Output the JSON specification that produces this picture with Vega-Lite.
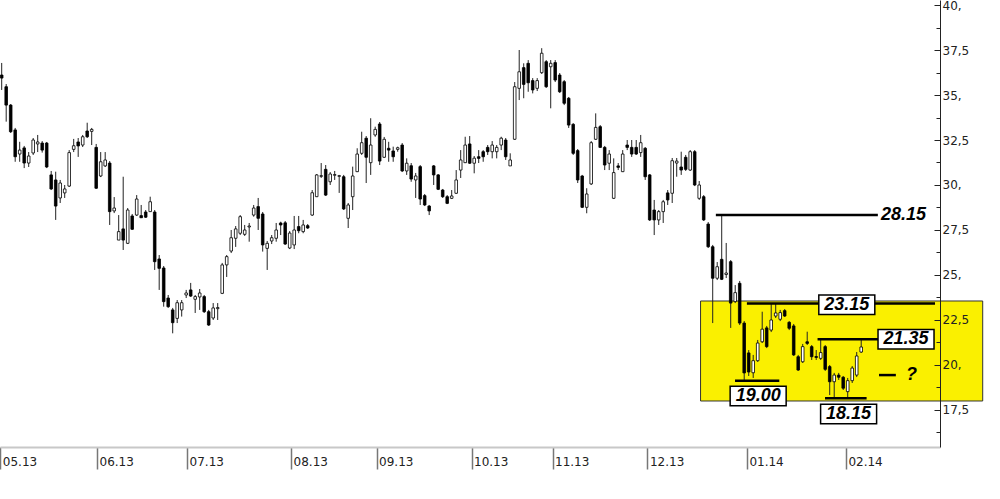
{
  "$schema": "https://vega.github.io/schema/vega-lite/v6.json",
  "width": 940,
  "height": 447,
  "autosize": "none",
  "padding": {"left": 0, "top": 0, "right": 60, "bottom": 52},
  "background": "white",
  "config": {"view": {"stroke": null}},
  "resolve": {"axis": {"y": "independent"}},
  "datasets": {
    "candles": [
      {"i":1,"o":36.11,"h":36.78,"l":35.28,"c":35.94},
      {"i":2,"o":35.46,"h":35.61,"l":33.52,"c":34.44},
      {"i":3,"o":34.44,"h":34.5,"l":32.89,"c":32.96},
      {"i":4,"o":33.06,"h":33.17,"l":31.29,"c":31.57},
      {"i":5,"o":31.72,"h":32.4,"l":31.29,"c":31.94},
      {"i":6,"o":32.06,"h":32.17,"l":30.94,"c":31.22},
      {"i":7,"o":31.22,"h":31.83,"l":31.0,"c":31.61},
      {"i":8,"o":31.78,"h":32.61,"l":31.67,"c":32.5},
      {"i":9,"o":32.28,"h":32.78,"l":31.83,"c":32.39},
      {"i":10,"o":32.33,"h":32.44,"l":31.8,"c":31.94},
      {"i":11,"o":32.33,"h":32.39,"l":30.94,"c":31.0},
      {"i":12,"o":30.56,"h":30.78,"l":29.72,"c":29.78},
      {"i":13,"o":30.28,"h":30.74,"l":28.06,"c":28.83},
      {"i":14,"o":29.28,"h":30.28,"l":29.0,"c":30.11},
      {"i":15,"o":29.56,"h":30.0,"l":29.28,"c":29.78},
      {"i":16,"o":29.94,"h":31.94,"l":29.89,"c":31.8},
      {"i":17,"o":31.98,"h":32.56,"l":31.83,"c":32.18},
      {"i":18,"o":32.39,"h":32.61,"l":31.56,"c":32.17},
      {"i":19,"o":32.22,"h":32.78,"l":32.11,"c":32.68},
      {"i":20,"o":33.0,"h":33.46,"l":32.61,"c":32.68},
      {"i":21,"o":32.98,"h":33.17,"l":32.22,"c":33.09},
      {"i":22,"o":32.09,"h":32.28,"l":29.78,"c":29.82},
      {"i":23,"o":30.5,"h":31.83,"l":30.44,"c":31.29},
      {"i":24,"o":31.06,"h":31.83,"l":31.0,"c":31.39},
      {"i":25,"o":31.22,"h":31.33,"l":27.78,"c":28.52},
      {"i":26,"o":28.56,"h":29.33,"l":28.44,"c":28.72},
      {"i":27,"o":26.94,"h":28.33,"l":26.94,"c":27.41},
      {"i":28,"o":27.56,"h":30.46,"l":26.39,"c":26.94},
      {"i":29,"o":26.76,"h":28.72,"l":26.72,"c":28.61},
      {"i":30,"o":28.28,"h":28.39,"l":27.5,"c":27.54},
      {"i":31,"o":28.33,"h":29.44,"l":28.28,"c":29.22},
      {"i":32,"o":28.3,"h":28.89,"l":28.17,"c":28.18},
      {"i":33,"o":28.5,"h":28.61,"l":28.17,"c":28.21},
      {"i":34,"o":28.52,"h":29.35,"l":28.5,"c":29.07},
      {"i":35,"o":28.5,"h":28.61,"l":25.28,"c":25.74},
      {"i":36,"o":25.89,"h":26.11,"l":24.17,"c":25.37},
      {"i":37,"o":25.39,"h":25.5,"l":23.24,"c":23.52},
      {"i":38,"o":23.72,"h":23.89,"l":23.17,"c":23.24},
      {"i":39,"o":23.06,"h":23.17,"l":21.76,"c":22.35},
      {"i":40,"o":22.59,"h":23.61,"l":22.33,"c":23.46},
      {"i":41,"o":23.06,"h":23.61,"l":22.69,"c":23.46},
      {"i":42,"o":23.89,"h":24.17,"l":23.72,"c":24.0},
      {"i":43,"o":24.17,"h":24.56,"l":23.78,"c":23.83},
      {"i":44,"o":23.65,"h":23.89,"l":22.89,"c":23.8},
      {"i":45,"o":23.78,"h":24.22,"l":23.06,"c":24.0},
      {"i":46,"o":23.8,"h":23.89,"l":22.89,"c":22.96},
      {"i":47,"o":22.96,"h":23.06,"l":22.17,"c":22.22},
      {"i":48,"o":22.61,"h":23.44,"l":22.5,"c":23.17},
      {"i":49,"o":23.13,"h":23.44,"l":22.5,"c":23.19},
      {"i":50,"o":23.98,"h":25.67,"l":23.94,"c":25.56},
      {"i":51,"o":25.56,"h":26.11,"l":24.89,"c":26.02},
      {"i":52,"o":26.33,"h":27.5,"l":26.22,"c":27.07},
      {"i":53,"o":27.04,"h":27.72,"l":26.56,"c":27.56},
      {"i":54,"o":27.32,"h":28.33,"l":27.22,"c":28.24},
      {"i":55,"o":27.26,"h":27.78,"l":27.17,"c":27.5},
      {"i":56,"o":27.67,"h":27.89,"l":26.85,"c":27.72},
      {"i":57,"o":28.33,"h":28.89,"l":28.24,"c":28.72},
      {"i":58,"o":28.8,"h":29.28,"l":27.5,"c":28.15},
      {"i":59,"o":28.39,"h":28.5,"l":26.3,"c":26.67},
      {"i":60,"o":26.48,"h":26.89,"l":25.28,"c":26.76},
      {"i":61,"o":26.89,"h":27.22,"l":26.72,"c":27.07},
      {"i":62,"o":27.04,"h":27.89,"l":26.85,"c":27.5},
      {"i":63,"o":27.89,"h":27.96,"l":27.22,"c":27.78},
      {"i":64,"o":27.9,"h":28.0,"l":26.67,"c":26.72},
      {"i":65,"o":26.5,"h":27.44,"l":26.44,"c":27.33},
      {"i":66,"o":26.67,"h":28.28,"l":26.44,"c":27.5},
      {"i":67,"o":27.69,"h":28.28,"l":27.32,"c":27.46},
      {"i":68,"o":27.41,"h":28.06,"l":27.32,"c":27.78},
      {"i":69,"o":27.74,"h":27.83,"l":27.56,"c":27.61},
      {"i":70,"o":28.33,"h":29.72,"l":28.28,"c":29.57},
      {"i":71,"o":29.35,"h":30.61,"l":29.33,"c":30.56},
      {"i":72,"o":30.48,"h":31.22,"l":30.39,"c":30.52},
      {"i":73,"o":30.87,"h":31.11,"l":29.39,"c":29.44},
      {"i":74,"o":30.18,"h":30.72,"l":30.0,"c":30.61},
      {"i":75,"o":30.54,"h":30.78,"l":30.28,"c":30.58},
      {"i":76,"o":30.48,"h":30.56,"l":29.56,"c":30.52},
      {"i":77,"o":30.46,"h":30.56,"l":28.61,"c":28.67},
      {"i":78,"o":28.15,"h":29.0,"l":27.61,"c":28.89},
      {"i":79,"o":29.35,"h":31.02,"l":28.61,"c":30.5},
      {"i":80,"o":30.74,"h":32.04,"l":30.72,"c":31.72},
      {"i":81,"o":31.76,"h":32.96,"l":31.67,"c":32.35},
      {"i":82,"o":32.6,"h":32.72,"l":30.11,"c":31.54},
      {"i":83,"o":31.24,"h":33.71,"l":30.56,"c":32.22},
      {"i":84,"o":32.78,"h":33.24,"l":32.68,"c":33.09},
      {"i":85,"o":33.39,"h":33.5,"l":31.11,"c":31.33},
      {"i":86,"o":31.54,"h":32.67,"l":31.5,"c":32.54},
      {"i":87,"o":32.04,"h":32.4,"l":31.29,"c":31.94},
      {"i":88,"o":31.89,"h":32.13,"l":31.29,"c":31.57},
      {"i":89,"o":31.98,"h":32.13,"l":31.85,"c":32.07},
      {"i":90,"o":32.22,"h":32.33,"l":30.72,"c":30.78},
      {"i":91,"o":30.78,"h":31.48,"l":30.56,"c":31.21},
      {"i":92,"o":31.07,"h":31.22,"l":30.18,"c":30.33},
      {"i":93,"o":30.28,"h":30.67,"l":29.28,"c":30.5},
      {"i":94,"o":31.02,"h":31.11,"l":28.89,"c":29.22},
      {"i":95,"o":29.41,"h":29.5,"l":28.83,"c":28.89},
      {"i":96,"o":28.83,"h":28.89,"l":28.33,"c":28.56},
      {"i":97,"o":31.06,"h":31.11,"l":30.0,"c":30.56},
      {"i":98,"o":30.56,"h":30.61,"l":29.72,"c":29.76},
      {"i":99,"o":29.72,"h":29.78,"l":29.28,"c":29.35},
      {"i":100,"o":29.35,"h":29.44,"l":28.94,"c":28.98},
      {"i":101,"o":29.26,"h":29.72,"l":29.22,"c":29.39},
      {"i":102,"o":29.54,"h":30.83,"l":29.5,"c":30.28},
      {"i":103,"o":30.83,"h":31.94,"l":30.39,"c":31.39},
      {"i":104,"o":31.24,"h":32.68,"l":31.22,"c":32.22},
      {"i":105,"o":32.28,"h":32.72,"l":31.17,"c":31.21},
      {"i":106,"o":31.21,"h":31.61,"l":30.65,"c":31.49},
      {"i":107,"o":31.57,"h":31.94,"l":31.22,"c":31.48},
      {"i":108,"o":31.85,"h":31.94,"l":31.29,"c":31.57},
      {"i":109,"o":32.09,"h":32.22,"l":31.67,"c":31.85},
      {"i":110,"o":31.85,"h":32.44,"l":31.48,"c":32.22},
      {"i":111,"o":31.85,"h":32.22,"l":31.48,"c":32.09},
      {"i":112,"o":32.22,"h":32.68,"l":31.94,"c":32.6},
      {"i":113,"o":32.5,"h":32.61,"l":31.39,"c":31.57},
      {"i":114,"o":31.06,"h":31.76,"l":31.06,"c":31.39},
      {"i":115,"o":32.54,"h":35.72,"l":32.5,"c":35.46},
      {"i":116,"o":35.37,"h":37.5,"l":34.72,"c":36.29},
      {"i":117,"o":36.52,"h":36.76,"l":34.82,"c":35.59},
      {"i":118,"o":36.76,"h":36.94,"l":35.18,"c":35.68},
      {"i":119,"o":35.8,"h":35.94,"l":35.09,"c":35.28},
      {"i":120,"o":35.37,"h":35.94,"l":35.22,"c":35.8},
      {"i":121,"o":36.24,"h":37.6,"l":36.17,"c":37.32},
      {"i":122,"o":36.85,"h":36.94,"l":35.39,"c":35.46},
      {"i":123,"o":36.57,"h":36.94,"l":34.26,"c":36.76},
      {"i":124,"o":36.8,"h":36.94,"l":35.72,"c":35.83},
      {"i":125,"o":36.11,"h":36.22,"l":35.11,"c":35.18},
      {"i":126,"o":35.74,"h":35.83,"l":34.44,"c":34.54},
      {"i":127,"o":34.82,"h":34.89,"l":33.17,"c":33.33},
      {"i":128,"o":33.37,"h":33.44,"l":31.67,"c":31.76},
      {"i":129,"o":31.91,"h":32.0,"l":30.11,"c":30.28},
      {"i":130,"o":30.5,"h":30.56,"l":28.72,"c":28.76},
      {"i":131,"o":28.76,"h":29.82,"l":28.43,"c":29.5},
      {"i":132,"o":30.06,"h":32.44,"l":30.0,"c":32.35},
      {"i":133,"o":32.54,"h":33.98,"l":32.5,"c":33.2},
      {"i":134,"o":33.24,"h":33.33,"l":32.06,"c":32.09},
      {"i":135,"o":32.09,"h":32.17,"l":30.83,"c":31.11},
      {"i":136,"o":31.21,"h":31.94,"l":30.83,"c":31.72},
      {"i":137,"o":29.26,"h":31.48,"l":29.22,"c":30.69},
      {"i":138,"o":31.06,"h":31.22,"l":30.83,"c":30.98},
      {"i":139,"o":30.74,"h":31.94,"l":30.72,"c":31.72},
      {"i":140,"o":32.22,"h":32.5,"l":31.94,"c":32.09},
      {"i":141,"o":32.09,"h":32.5,"l":31.56,"c":31.72},
      {"i":142,"o":32.09,"h":32.5,"l":31.67,"c":31.72},
      {"i":143,"o":31.8,"h":32.78,"l":31.56,"c":32.35},
      {"i":144,"o":32.04,"h":32.11,"l":30.28,"c":30.46},
      {"i":145,"o":30.56,"h":30.61,"l":28.0,"c":28.06},
      {"i":146,"o":28.61,"h":29.17,"l":27.22,"c":28.06},
      {"i":147,"o":28.06,"h":28.61,"l":27.78,"c":28.52},
      {"i":148,"o":28.52,"h":29.17,"l":27.89,"c":29.07},
      {"i":149,"o":29.56,"h":29.72,"l":28.89,"c":29.17},
      {"i":150,"o":29.54,"h":31.5,"l":29.0,"c":31.35},
      {"i":151,"o":31.22,"h":31.5,"l":30.46,"c":31.33},
      {"i":152,"o":31.0,"h":31.85,"l":30.56,"c":30.83},
      {"i":153,"o":31.54,"h":31.67,"l":30.78,"c":30.87},
      {"i":154,"o":30.83,"h":31.94,"l":30.78,"c":31.85},
      {"i":155,"o":31.85,"h":31.94,"l":29.94,"c":30.0},
      {"i":156,"o":29.26,"h":30.22,"l":29.17,"c":30.0},
      {"i":157,"o":29.35,"h":29.44,"l":28.0,"c":28.06},
      {"i":158,"o":27.83,"h":27.94,"l":26.5,"c":26.57},
      {"i":159,"o":26.57,"h":26.67,"l":22.33,"c":24.82},
      {"i":160,"o":24.82,"h":25.72,"l":24.72,"c":25.46},
      {"i":161,"o":25.87,"h":28.28,"l":24.72,"c":24.76},
      {"i":162,"o":25.03,"h":26.78,"l":24.83,"c":25.11},
      {"i":163,"o":25.74,"h":25.83,"l":22.06,"c":23.44},
      {"i":164,"o":23.52,"h":24.44,"l":23.44,"c":24.02},
      {"i":165,"o":24.54,"h":24.67,"l":22.22,"c":22.33},
      {"i":166,"o":22.33,"h":22.44,"l":19.17,"c":19.56},
      {"i":167,"o":20.67,"h":20.83,"l":19.39,"c":19.61},
      {"i":168,"o":19.57,"h":20.56,"l":19.28,"c":20.24},
      {"i":169,"o":20.24,"h":21.39,"l":20.17,"c":21.22},
      {"i":170,"o":21.29,"h":22.96,"l":21.22,"c":21.99},
      {"i":171,"o":22.06,"h":22.17,"l":20.94,"c":21.02},
      {"i":172,"o":21.94,"h":23.44,"l":21.83,"c":22.5},
      {"i":173,"o":22.72,"h":23.44,"l":22.61,"c":22.89},
      {"i":174,"o":22.54,"h":23.06,"l":22.44,"c":22.91},
      {"i":175,"o":23.02,"h":23.11,"l":22.67,"c":22.72},
      {"i":176,"o":22.37,"h":22.44,"l":21.94,"c":22.04},
      {"i":177,"o":22.17,"h":22.28,"l":20.5,"c":20.56},
      {"i":178,"o":20.46,"h":20.56,"l":19.67,"c":19.72},
      {"i":179,"o":20.18,"h":21.17,"l":20.11,"c":21.02},
      {"i":180,"o":21.29,"h":21.85,"l":21.11,"c":21.2},
      {"i":181,"o":21.02,"h":21.11,"l":20.28,"c":20.46},
      {"i":182,"o":20.47,"h":20.83,"l":20.28,"c":20.42},
      {"i":183,"o":20.37,"h":21.39,"l":20.28,"c":20.69},
      {"i":184,"o":21.02,"h":21.11,"l":19.67,"c":19.76},
      {"i":185,"o":19.91,"h":20.0,"l":18.33,"c":19.07},
      {"i":186,"o":19.07,"h":19.56,"l":18.2,"c":19.44},
      {"i":187,"o":19.44,"h":19.56,"l":19.17,"c":19.32},
      {"i":188,"o":19.32,"h":19.39,"l":18.61,"c":18.71},
      {"i":189,"o":18.52,"h":19.28,"l":18.17,"c":19.13},
      {"i":190,"o":19.13,"h":19.94,"l":19.0,"c":19.83},
      {"i":191,"o":19.44,"h":20.72,"l":19.33,"c":20.5},
      {"i":192,"o":20.72,"h":21.39,"l":20.67,"c":21.0}
    ],
    "zone": [{"i": 156.3, "i2": 219.0, "v": 18.0, "v2": 23.556}],
    "levels": [
      {"i": 159.7, "i2": 195.7, "v": 28.33, "level": "28.15"},
      {"i": 166.6, "i2": 208.4, "v": 23.42, "level": "23.15"},
      {"i": 182.3, "i2": 196.4, "v": 21.43, "level": "21.35"},
      {"i": 163.96, "i2": 173.8, "v": 19.13, "level": "19.00"},
      {"i": 183.96, "i2": 193.2, "v": 18.15, "level": "18.15"},
      {"i": 195.96, "i2": 199.7, "v": 19.44, "level": "?"}
    ],
    "boxes": [
      {"i": 188.8, "v": 23.35, "text": "23.15"},
      {"i": 201.96, "v": 21.43, "text": "21.35"},
      {"i": 169.1, "v": 18.28, "text": "19.00"},
      {"i": 189.2, "v": 17.28, "text": "18.15"}
    ],
    "freeText": [
      {"i": 201.4, "v": 28.33, "text": "28.15"},
      {"i": 203.2, "v": 19.44, "text": "?"}
    ]
  },
  "encoding": {
    "x": {
      "field": "i",
      "type": "quantitative",
      "scale": {"domain": [0.622, 209.51], "nice": false, "zero": false, "padding": 0},
      "axis": {
        "title": null,
        "values": [0.7, 22.18, 42.2, 65.3, 84.3, 105.4, 123.4, 144.5, 166.6, 188.6],
        "labelExpr": "['05.13','06.13','07.13','08.13','09.13','10.13','11.13','12.13','01.14','02.14'][indexof([0.7,22.18,42.2,65.3,84.3,105.4,123.4,144.5,166.6,188.6], datum.value)]",
        "grid": false,
        "domainColor": "#c8c8c8",
        "domainWidth": 2,
        "tickColor": "#777777",
        "tickWidth": 1.5,
        "tickSize": 22,
        "labelAlign": "left",
        "labelBaseline": "middle",
        "labelOffset": 2,
        "labelPadding": -8,
        "labelFlush": false,
        "labelBound": false,
        "labelOverlap": false,
        "labelFont": "DejaVu Sans",
        "labelFontSize": 12,
        "labelColor": "#222222"
      }
    }
  },
  "layer": [
    {
      "data": {"name": "zone"},
      "mark": {"type": "rect", "fill": "#FAF000", "stroke": "#333333", "strokeWidth": 1},
      "encoding": {
        "x2": {"field": "i2"},
        "y": {"field": "v", "type": "quantitative", "scale": {"domain": [15.444, 40.278], "nice": false, "zero": false}, "axis": null},
        "y2": {"field": "v2"}
      }
    },
    {
      "data": {"name": "candles"},
      "mark": {"type": "rule", "color": "#222222", "strokeWidth": 1},
      "encoding": {
        "y": {"field": "l", "type": "quantitative", "scale": {"domain": [15.444, 40.278], "nice": false, "zero": false},
          "axis": {
            "title": null,
            "orient": "right",
            "zindex": 1,
            "grid": false,
            "values": [16.25, 17.5, 18.75, 20, 21.25, 22.5, 23.75, 25, 26.25, 27.5, 28.75, 30, 31.25, 32.5, 33.75, 35, 36.25, 37.5, 38.75, 40],
            "labelExpr": "(datum.value * 4) % 10 != 0 ? ' ' : (datum.value % 1 == 0 ? format(datum.value, 'd') + ',' : replace(format(datum.value, '.1f'), '.', ','))",
            "domainColor": "#222222",
            "domainWidth": 1,
            "tickColor": "#222222",
            "tickWidth": 1,
            "tickSize": {"condition": {"test": "(datum.value * 4) % 10 == 0", "value": -6}, "value": -4},
            "labelPadding": 8,
            "labelAlign": "left",
            "labelBaseline": "middle",
            "labelFont": "DejaVu Sans",
            "labelFontSize": 12,
            "labelColor": "#222222",
            "labelOverlap": false,
            "labelBound": false,
            "labelFlush": false
          }
        },
        "y2": {"field": "h"}
      }
    },
    {
      "data": {"name": "candles"},
      "mark": {"type": "bar", "size": 2.6, "stroke": "#000000", "strokeWidth": 0.8},
      "encoding": {
        "y": {"field": "o", "type": "quantitative", "scale": {"domain": [15.444, 40.278], "nice": false, "zero": false}, "axis": null},
        "y2": {"field": "c"},
        "fill": {"condition": {"test": "datum.c >= datum.o", "value": "#ffffff"}, "value": "#000000"}
      }
    },
    {
      "data": {"name": "levels"},
      "mark": {"type": "rule", "color": "#000000", "strokeWidth": 2.5},
      "encoding": {
        "x2": {"field": "i2"},
        "y": {"field": "v", "type": "quantitative", "scale": {"domain": [15.444, 40.278], "nice": false, "zero": false}, "axis": null}
      }
    },
    {
      "data": {"name": "boxes"},
      "mark": {"type": "point", "shape": "M-1,-0.35H1V0.35H-1Z", "size": 3136, "filled": true, "fill": "#ffffff", "stroke": "#000000", "strokeWidth": 1.5, "opacity": 1},
      "encoding": {
        "y": {"field": "v", "type": "quantitative", "scale": {"domain": [15.444, 40.278], "nice": false, "zero": false}, "axis": null}
      }
    },
    {
      "data": {"name": "boxes"},
      "mark": {"type": "text", "font": "Liberation Sans", "fontSize": 18, "fontWeight": "bold", "fontStyle": "italic", "color": "#000000", "align": "center", "baseline": "middle"},
      "encoding": {
        "y": {"field": "v", "type": "quantitative", "scale": {"domain": [15.444, 40.278], "nice": false, "zero": false}, "axis": null},
        "text": {"field": "text"}
      }
    },
    {
      "data": {"name": "freeText"},
      "mark": {"type": "text", "font": "Liberation Sans", "fontSize": 18, "fontWeight": "bold", "fontStyle": "italic", "color": "#000000", "align": "center", "baseline": "middle"},
      "encoding": {
        "y": {"field": "v", "type": "quantitative", "scale": {"domain": [15.444, 40.278], "nice": false, "zero": false}, "axis": null},
        "text": {"field": "text"}
      }
    }
  ]
}
